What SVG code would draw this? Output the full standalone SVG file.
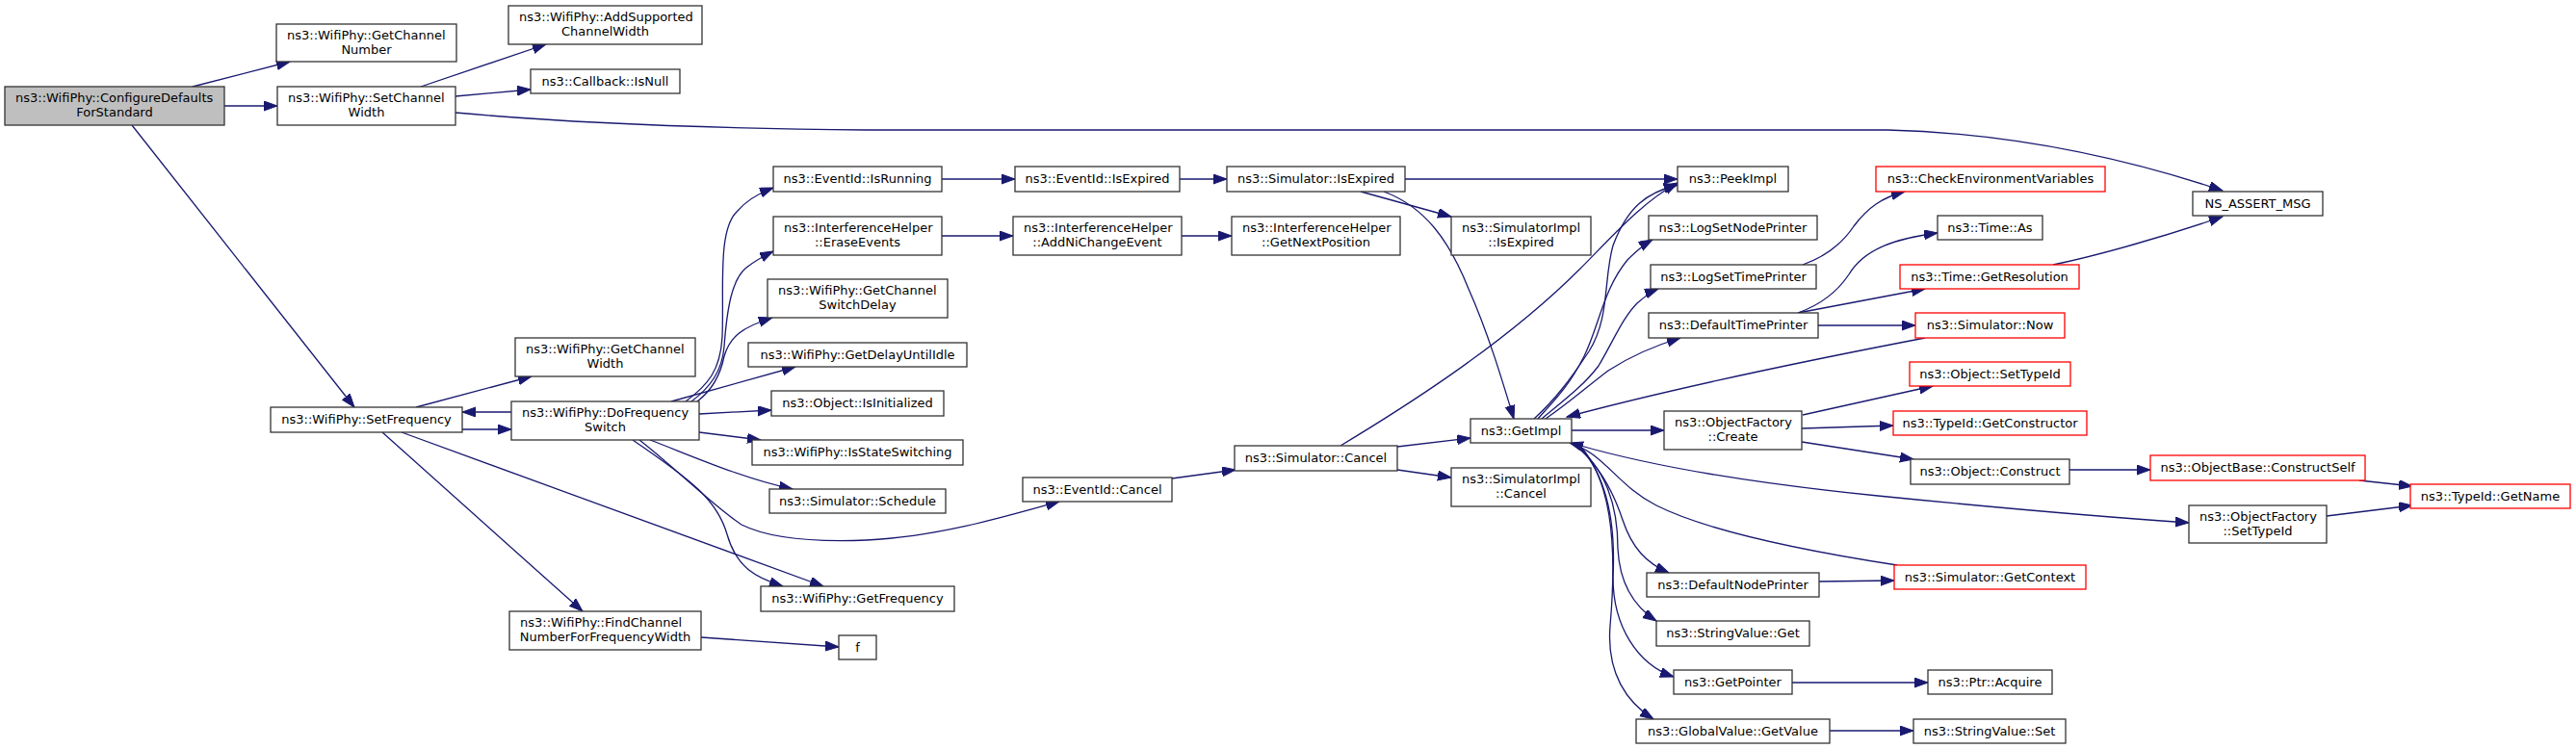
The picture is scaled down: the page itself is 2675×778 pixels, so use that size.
<svg xmlns="http://www.w3.org/2000/svg" width="2675" height="778" viewBox="0 0 2675 778">
<style>
.node rect{fill:#ffffff;stroke:#333333;stroke-width:1.3}
.node rect.root{fill:#bfbfbf}
.node rect.red{stroke:#ff0000}
text{font-family:"DejaVu Sans",sans-serif;font-size:13px;fill:#000;text-anchor:middle}
text.l{text-anchor:start}
#edges path{fill:none;stroke:#191970;stroke-width:1.3;marker-end:url(#ah)}
</style>
<defs>
<marker id="ah" markerUnits="userSpaceOnUse" markerWidth="16" markerHeight="12" refX="14" refY="5" orient="auto">
<path d="M0,0 L14,5 L0,10 z" fill="#191970" stroke="#191970" stroke-width="1"/>
</marker>
</defs>
<rect width="2675" height="778" fill="#ffffff"/>
<g id="edges">
<path d="M200,90 L301,64"/>
<path d="M233,110 L288,110"/>
<path d="M137,130 L368,423"/>
<path d="M437,90 L567,46"/>
<path d="M473,100 L551,93"/>
<path d="M473,117 C560,125 700,133 900,135 L1960,135 C2080,138 2200,162 2308,198"/>
<path d="M2132,275 C2180,265 2250,245 2308,225"/>
<path d="M432,423 L552,391"/>
<path d="M531,428 L480,428"/>
<path d="M480,446 L531,446"/>
<path d="M417,449 L855,609"/>
<path d="M397,449 L605,635"/>
<path d="M728,662 L871,672"/>
<path d="M726,430 L801,426"/>
<path d="M726,449 L790,457"/>
<path d="M675,457 C710,470 770,497 823,508"/>
<path d="M657,457 C720,500 745,520 755,555 C765,590 785,600 813,609"/>
<path d="M664,457 C700,485 740,525 770,545 C800,560 850,563 900,561 C970,558 1040,538 1100,521"/>
<path d="M697,417 L826,381"/>
<path d="M712,417 C735,400 748,385 750,350 C752,300 745,240 765,220 C775,208 790,200 803,195"/>
<path d="M718,417 C738,402 750,385 752,360 C755,320 760,290 775,278 C785,270 795,265 803,261"/>
<path d="M724,417 C740,405 748,390 752,370 C758,350 770,340 802,330"/>
<path d="M978,186 L1054,186"/>
<path d="M978,245 L1052,245"/>
<path d="M1225,186 L1274,186"/>
<path d="M1227,245 L1279,245"/>
<path d="M1459,186 L1742,186"/>
<path d="M1413,199 L1507,225"/>
<path d="M1437,199 C1480,215 1505,250 1525,300 C1545,345 1560,395 1572,435"/>
<path d="M1217,497 L1283,488"/>
<path d="M1392,463 C1450,428 1560,360 1640,280 C1675,245 1705,210 1742,190"/>
<path d="M1451,464 L1527,455"/>
<path d="M1451,488 L1507,496"/>
<path d="M1632,447 L1728,447"/>
<path d="M1999,351 C1900,370 1750,400 1627,433"/>
<path d="M1638,462 C1700,480 1800,500 1950,515 C2100,530 2200,538 2273,543"/>
<path d="M1970,587 C1860,570 1770,550 1720,525 C1680,505 1665,470 1630,460"/>
<path d="M1632,460 C1660,480 1675,510 1685,540 C1695,570 1710,585 1733,595"/>
<path d="M1634,460 C1665,485 1680,520 1680,570 C1682,610 1700,632 1720,645"/>
<path d="M1636,460 C1668,490 1678,540 1675,600 C1675,650 1700,690 1738,703"/>
<path d="M1638,460 C1672,495 1680,560 1672,650 C1668,700 1690,730 1717,747"/>
<path d="M1593,435 C1615,415 1630,395 1650,365 C1672,330 1665,290 1675,255 C1690,215 1710,200 1742,192"/>
<path d="M1597,435 C1615,415 1630,400 1645,370 C1660,340 1665,300 1690,270 C1698,262 1705,255 1716,249"/>
<path d="M1601,435 C1625,415 1645,400 1660,380 C1675,355 1685,330 1700,315 C1708,308 1714,303 1722,300"/>
<path d="M1605,435 C1630,418 1650,400 1670,385 C1690,372 1715,360 1745,351"/>
<path d="M1872,275 C1900,265 1915,250 1925,235 C1940,215 1955,205 1978,199"/>
<path d="M1867,325 C1895,315 1910,300 1920,285 C1935,260 1965,248 2012,242"/>
<path d="M1867,325 L1999,300"/>
<path d="M1888,338 L1989,338"/>
<path d="M1872,431 L2007,401"/>
<path d="M1871,445 L1966,442"/>
<path d="M1871,459 L1987,477"/>
<path d="M2149,488 L2233,488"/>
<path d="M2450,499 L2505,505"/>
<path d="M2416,536 L2505,525"/>
<path d="M1889,604 L1967,603"/>
<path d="M1861,709 L2002,709"/>
<path d="M1900,759 L1987,759"/>
</g>
<g id="n_config" class="node"><rect class="root" x="5" y="90" width="228" height="40"/><text class="l" x="16" y="106">ns3::WifiPhy::ConfigureDefaults</text><text x="119" y="120.5">ForStandard</text></g>
<g id="n_getchnum" class="node"><rect x="287" y="25" width="187" height="39"/><text class="l" x="298" y="41">ns3::WifiPhy::GetChannel</text><text x="380.5" y="55.5">Number</text></g>
<g id="n_setchw" class="node"><rect x="288" y="90" width="185" height="40"/><text class="l" x="299" y="106">ns3::WifiPhy::SetChannel</text><text x="380.5" y="120.5">Width</text></g>
<g id="n_addsup" class="node"><rect x="528" y="6" width="201" height="40"/><text class="l" x="539" y="22">ns3::WifiPhy::AddSupported</text><text x="628.5" y="36.5">ChannelWidth</text></g>
<g id="n_isnull" class="node"><rect x="551" y="72" width="155" height="25"/><text x="628.5" y="88.5">ns3::Callback::IsNull</text></g>
<g id="n_nsassert" class="node"><rect x="2277" y="199" width="135" height="25"/><text x="2344.5" y="215.5">NS_ASSERT_MSG</text></g>
<g id="n_setfreq" class="node"><rect x="281" y="423" width="199" height="26"/><text x="380.5" y="440">ns3::WifiPhy::SetFrequency</text></g>
<g id="n_getchw" class="node"><rect x="535" y="351" width="187" height="40"/><text class="l" x="546" y="367">ns3::WifiPhy::GetChannel</text><text x="628.5" y="381.5">Width</text></g>
<g id="n_dofreq" class="node"><rect x="531" y="417" width="195" height="40"/><text class="l" x="542" y="433">ns3::WifiPhy::DoFrequency</text><text x="628.5" y="447.5">Switch</text></g>
<g id="n_findch" class="node"><rect x="529" y="635" width="199" height="40"/><text class="l" x="540" y="651">ns3::WifiPhy::FindChannel</text><text x="628.5" y="665.5">NumberForFrequencyWidth</text></g>
<g id="n_isrunning" class="node"><rect x="803" y="173" width="175" height="26"/><text x="890.5" y="190">ns3::EventId::IsRunning</text></g>
<g id="n_erase" class="node"><rect x="803" y="225" width="175" height="40"/><text class="l" x="814" y="241">ns3::InterferenceHelper</text><text x="890.5" y="255.5">::EraseEvents</text></g>
<g id="n_swdelay" class="node"><rect x="797" y="290" width="187" height="40"/><text class="l" x="808" y="306">ns3::WifiPhy::GetChannel</text><text x="890.5" y="320.5">SwitchDelay</text></g>
<g id="n_delayidle" class="node"><rect x="777" y="356" width="227" height="25"/><text x="890.5" y="372.5">ns3::WifiPhy::GetDelayUntilIdle</text></g>
<g id="n_isinit" class="node"><rect x="801" y="406" width="179" height="26"/><text x="890.5" y="423">ns3::Object::IsInitialized</text></g>
<g id="n_isstatesw" class="node"><rect x="781" y="457" width="219" height="26"/><text x="890.5" y="474">ns3::WifiPhy::IsStateSwitching</text></g>
<g id="n_schedule" class="node"><rect x="799" y="508" width="183" height="25"/><text x="890.5" y="524.5">ns3::Simulator::Schedule</text></g>
<g id="n_getfreq" class="node"><rect x="790" y="609" width="201" height="26"/><text x="890.5" y="626">ns3::WifiPhy::GetFrequency</text></g>
<g id="n_f" class="node"><rect x="871" y="660" width="39" height="25"/><text x="890.5" y="676.5">f</text></g>
<g id="n_evcancel" class="node"><rect x="1062" y="496" width="155" height="25"/><text x="1139.5" y="512.5">ns3::EventId::Cancel</text></g>
<g id="n_isexpired" class="node"><rect x="1054" y="173" width="171" height="26"/><text x="1139.5" y="190">ns3::EventId::IsExpired</text></g>
<g id="n_addni" class="node"><rect x="1052" y="225" width="175" height="40"/><text class="l" x="1063" y="241">ns3::InterferenceHelper</text><text x="1139.5" y="255.5">::AddNiChangeEvent</text></g>
<g id="n_simisexp" class="node"><rect x="1274" y="173" width="185" height="26"/><text x="1366.5" y="190">ns3::Simulator::IsExpired</text></g>
<g id="n_nextpos" class="node"><rect x="1279" y="225" width="175" height="40"/><text class="l" x="1290" y="241">ns3::InterferenceHelper</text><text x="1366.5" y="255.5">::GetNextPosition</text></g>
<g id="n_simcancel" class="node"><rect x="1282" y="463" width="169" height="26"/><text x="1366.5" y="480">ns3::Simulator::Cancel</text></g>
<g id="n_simimplexp" class="node"><rect x="1507" y="225" width="145" height="40"/><text class="l" x="1518" y="241">ns3::SimulatorImpl</text><text x="1579.5" y="255.5">::IsExpired</text></g>
<g id="n_getimpl" class="node"><rect x="1527" y="435" width="105" height="25"/><text x="1579.5" y="451.5">ns3::GetImpl</text></g>
<g id="n_simimplcancel" class="node"><rect x="1507" y="486" width="145" height="40"/><text class="l" x="1518" y="502">ns3::SimulatorImpl</text><text x="1579.5" y="516.5">::Cancel</text></g>
<g id="n_peek" class="node"><rect x="1742" y="173" width="115" height="26"/><text x="1799.5" y="190">ns3::PeekImpl</text></g>
<g id="n_lognode" class="node"><rect x="1712" y="224" width="175" height="25"/><text x="1799.5" y="240.5">ns3::LogSetNodePrinter</text></g>
<g id="n_logtime" class="node"><rect x="1714" y="275" width="172" height="25"/><text x="1800" y="291.5">ns3::LogSetTimePrinter</text></g>
<g id="n_deftime" class="node"><rect x="1712" y="325" width="176" height="26"/><text x="1800" y="342">ns3::DefaultTimePrinter</text></g>
<g id="n_ofcreate" class="node"><rect x="1728" y="427" width="143" height="40"/><text class="l" x="1739" y="443">ns3::ObjectFactory</text><text x="1799.5" y="457.5">::Create</text></g>
<g id="n_defnode" class="node"><rect x="1710" y="595" width="179" height="25"/><text x="1799.5" y="611.5">ns3::DefaultNodePrinter</text></g>
<g id="n_strget" class="node"><rect x="1720" y="645" width="159" height="26"/><text x="1799.5" y="662">ns3::StringValue::Get</text></g>
<g id="n_getptr" class="node"><rect x="1738" y="696" width="123" height="25"/><text x="1799.5" y="712.5">ns3::GetPointer</text></g>
<g id="n_gvget" class="node"><rect x="1699" y="747" width="201" height="25"/><text x="1799.5" y="763.5">ns3::GlobalValue::GetValue</text></g>
<g id="n_checkenv" class="node"><rect class="red" x="1948" y="173" width="238" height="26"/><text x="2067" y="190">ns3::CheckEnvironmentVariables</text></g>
<g id="n_timeas" class="node"><rect x="2012" y="224" width="109" height="25"/><text x="2066.5" y="240.5">ns3::Time::As</text></g>
<g id="n_getres" class="node"><rect class="red" x="1973" y="275" width="186" height="25"/><text x="2066" y="291.5">ns3::Time::GetResolution</text></g>
<g id="n_simnow" class="node"><rect class="red" x="1989" y="325" width="155" height="26"/><text x="2066.5" y="342">ns3::Simulator::Now</text></g>
<g id="n_objsettid" class="node"><rect class="red" x="1983" y="376" width="167" height="25"/><text x="2066.5" y="392.5">ns3::Object::SetTypeId</text></g>
<g id="n_getctor" class="node"><rect class="red" x="1966" y="427" width="201" height="25"/><text x="2066.5" y="443.5">ns3::TypeId::GetConstructor</text></g>
<g id="n_construct" class="node"><rect x="1984" y="477" width="165" height="26"/><text x="2066.5" y="494">ns3::Object::Construct</text></g>
<g id="n_getctx" class="node"><rect class="red" x="1967" y="587" width="199" height="25"/><text x="2066.5" y="603.5">ns3::Simulator::GetContext</text></g>
<g id="n_ptracq" class="node"><rect x="2002" y="696" width="129" height="25"/><text x="2066.5" y="712.5">ns3::Ptr::Acquire</text></g>
<g id="n_strset" class="node"><rect x="1987" y="747" width="158" height="25"/><text x="2066" y="763.5">ns3::StringValue::Set</text></g>
<g id="n_ctself" class="node"><rect class="red" x="2233" y="473" width="223" height="26"/><text x="2344.5" y="490">ns3::ObjectBase::ConstructSelf</text></g>
<g id="n_ofsettid" class="node"><rect x="2273" y="525" width="143" height="39"/><text class="l" x="2284" y="541">ns3::ObjectFactory</text><text x="2344.5" y="555.5">::SetTypeId</text></g>
<g id="n_getname" class="node"><rect class="red" x="2503" y="503" width="166" height="25"/><text x="2586" y="519.5">ns3::TypeId::GetName</text></g>
</svg>
